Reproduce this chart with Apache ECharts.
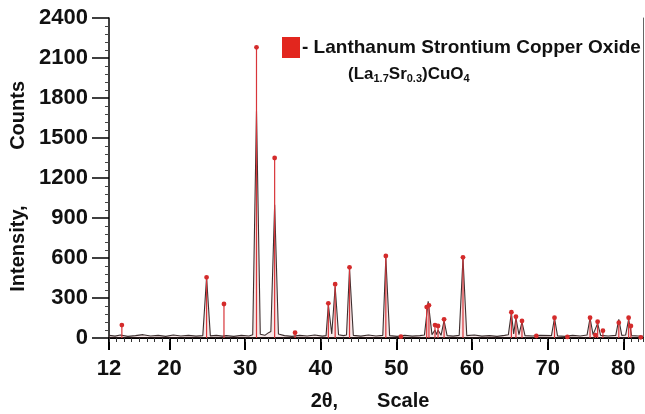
<!DOCTYPE html>
<html>
<head>
    <meta charset="utf-8">
    <title>XRD LSCO</title>
    <script src="https://cdn.jsdelivr.net/npm/echarts@6/dist/echarts.min.js"></script>
    <style>
        html, body { margin: 0; padding: 0; background: #fff; }
    </style>
</head>
<body>
<div id="main" style="width: 645px;height:414px;"></div>
<script type="text/javascript">
    var profile = [
        [12, 20], [12.8, 14], [13.5, 22], [14.5, 12], [15.5, 18], [16.5, 25], [17.5, 15], [18.5, 20],
        [19.5, 12], [20.5, 22], [21.5, 15], [22.5, 20], [23.5, 14], [24.4, 18],
        [24.9, 455], [25.4, 16], [26.2, 20], [27.0, 14], [27.5, 18], [28.5, 12], [29.5, 20], [30.5, 15], [31.0, 25],
        [31.5, 1700], [32.0, 28], [32.6, 20], [33.1, 40], [33.4, 48],
        [33.9, 1000], [34.4, 30], [35.2, 18], [36.2, 12], [37.2, 20], [38.2, 15], [39.2, 22], [40.2, 14], [40.7, 18],
        [41.0, 250], [41.45, 30], [41.9, 385], [42.35, 25], [43.0, 18], [43.4, 22],
        [43.8, 520], [44.3, 20], [45.3, 14], [46.3, 22], [47.3, 15], [48.2, 20],
        [48.6, 600], [49.1, 18], [50.1, 12], [51.1, 20], [52.1, 14], [53.1, 18], [53.7, 22],
        [54.2, 275], [54.7, 25], [55.1, 60], [55.3, 25], [55.5, 60], [55.9, 20], [56.3, 130], [56.7, 18], [57.5, 14], [58.3, 20],
        [58.8, 600], [59.3, 18], [60.3, 22], [61.3, 14], [62.3, 18], [63.3, 12], [64.3, 20], [64.8, 25],
        [65.2, 190], [65.5, 30], [65.8, 150], [66.2, 25], [66.6, 120], [67.0, 18], [68, 15], [69, 20], [70.5, 18],
        [70.9, 150], [71.3, 16], [72.3, 12], [73.3, 20], [74.3, 15], [75.2, 22],
        [75.6, 150], [76.0, 25], [76.6, 110], [77.0, 20], [78, 15], [79.0, 20],
        [79.4, 140], [79.8, 20], [80.3, 22], [80.7, 140], [81.1, 18], [82, 15], [82.6, 12]
    ];

    // reference pattern (sticks)
    var stickTheta  = [13.7, 24.9, 27.2, 31.5, 33.9, 36.6, 41.0, 41.9, 43.8, 48.6, 50.6, 54.0, 54.3, 55.1, 55.5, 56.3,
                       58.8, 65.2, 65.8, 66.6, 68.5, 70.9, 72.6, 75.6, 76.3, 76.6, 77.3, 79.4, 80.7, 81.0, 82.3];
    var stickCounts = [97, 455, 255, 2180, 1350, 40, 260, 403, 530, 615, 10, 232, 245, 97, 90, 140,
                       605, 193, 160, 128, 15, 152, 8, 152, 22, 122, 55, 115, 152, 90, 5];

    var xTicks = [12, 20, 30, 40, 50, 60, 70, 80];
    var legendName = '- Lanthanum Strontium Copper Oxide';

    var sticks = stickTheta.map(function (t, i) { return [t, stickCounts[i]]; });

    var myChart = echarts.init(document.getElementById('main'));
    var font = '"Liberation Sans", Arial, sans-serif';

    myChart.setOption({
        animation: false,
        backgroundColor: '#fff',
        grid: { left: 109, right: 2, top: 18, bottom: 76, outerBoundsMode: 'none' },
        legend: {
            left: 282, top: 37,
            padding: 0,
            itemWidth: 18, itemHeight: 21,
            itemGap: 0,
            selectedMode: false,
            data: [{ name: legendName, icon: 'rect', itemStyle: { color: '#e2261e' } }],
            textStyle: { fontFamily: font, fontWeight: 'bold', fontSize: 19, color: '#111', padding: [0, 0, 0, -3] }
        },
        graphic: [{
            type: 'text', left: 348, top: 64,
            style: {
                text: '{b|(La}{s|1.7}{b|Sr}{s|0.3}{b|)CuO}{s|4}',
                rich: {
                    b: { fontFamily: font, fontWeight: 'bold', fontSize: 17, fill: '#111', lineHeight: 24 },
                    s: { fontFamily: font, fontWeight: 'bold', fontSize: 11, fill: '#111', padding: [9, 0, 0, 0], lineHeight: 24 }
                }
            }
        }],
        xAxis: [{
            type: 'value',
            min: 12, max: 82.6, interval: 2,
            name: '2θ,       Scale',
            nameLocation: 'middle',
            nameGap: 53,
            nameTextStyle: { fontFamily: font, fontWeight: 'bold', fontSize: 20, color: '#111', padding: [0, 12, 0, 0] },
            axisLine: { lineStyle: { color: '#000', width: 2 } },
            axisTick: { customValues: xTicks, length: 12, lineStyle: { color: '#000', width: 2 } },
            axisLabel: {
                customValues: xTicks, margin: 20,
                fontFamily: font, fontWeight: 'bold', fontSize: 22, color: '#111'
            },
            splitLine: { show: false }
        }, {
            // small 1-degree ticks along the bottom
            type: 'value',
            position: 'bottom',
            min: 12, max: 82.6, interval: 1,
            axisLine: { show: false },
            axisTick: { length: 4, lineStyle: { color: '#333' } },
            axisLabel: { show: false },
            splitLine: { show: false }
        }],
        yAxis: [{
            type: 'value',
            min: 0, max: 2400, interval: 300,
            name: 'Intensity,          Counts\u00a0\u00a0\u00a0',
            nameLocation: 'middle',
            nameGap: 72,
            nameTextStyle: { fontFamily: font, fontWeight: 'bold', fontSize: 20, color: '#111' },
            axisLine: { show: true, lineStyle: { color: '#000', width: 1.5 } },
            axisTick: { length: 17, lineStyle: { color: '#000', width: 1.5 } },
            minorTick: { show: true, splitNumber: 5, length: 4, lineStyle: { color: '#444' } },
            axisLabel: {
                margin: 21, fontFamily: font, fontWeight: 'bold', fontSize: 22, color: '#111',
                formatter: function (v) { return String(v); }
            },
            splitLine: { show: false }
        }, {
            type: 'value',
            min: 0, max: 2400, position: 'right',
            axisLine: { show: true, lineStyle: { color: '#666', width: 1 } },
            axisTick: { show: false }, axisLabel: { show: false }, splitLine: { show: false }
        }],
        series: [{
            name: 'scan',
            type: 'line',
            data: profile,
            symbol: 'none',
            z: 2,
            lineStyle: { color: '#3d2f2f', width: 1.1 },
            areaStyle: { color: 'rgba(205, 120, 120, 0.25)' }
        }, {
            name: legendName,
            type: 'custom',
            data: sticks,
            z: 3,
            renderItem: function (params, api) {
                var top = api.coord([api.value(0), api.value(1)]);
                var base = api.coord([api.value(0), 0]);
                return {
                    type: 'group',
                    children: [{
                        type: 'line',
                        shape: { x1: base[0], y1: base[1], x2: top[0], y2: top[1] },
                        style: { stroke: '#d8353a', lineWidth: 1.2 }
                    }, {
                        type: 'circle',
                        shape: { cx: top[0], cy: top[1], r: 2.4 },
                        style: { fill: '#d42b2b' }
                    }]
                };
            }
        }]
    });
</script>
</body>
</html>
